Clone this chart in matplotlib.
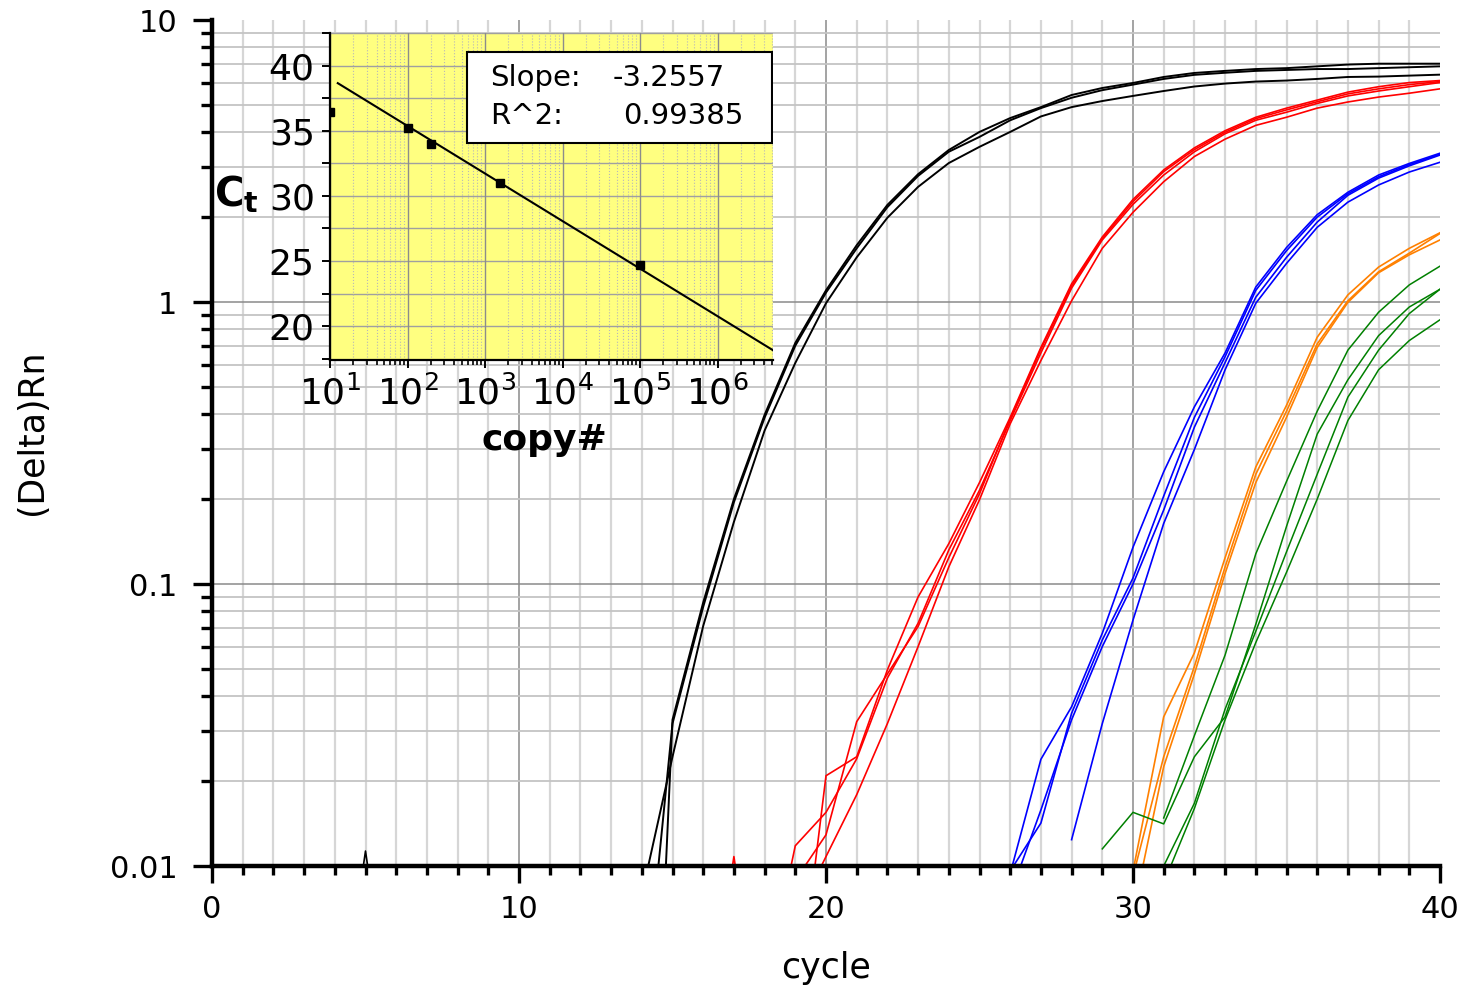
import numpy as np
import matplotlib
matplotlib.use("Agg")
import matplotlib.pyplot as plt
from matplotlib import ticker
from matplotlib.patches import Rectangle

plt.rcParams["font.family"] = ["DejaVu Sans"]
plt.rcParams["mathtext.fontset"] = "dejavusans"

# ---- amplification curves: (first cycle, values from that cycle to cycle 40)
black_start = [14, 14, 14]
black_runs = [
    [0.0079, 0.0244, 0.071, 0.166, 0.35, 0.608, 0.99, 1.44, 1.99, 2.56, 3.11, 3.55, 4.01, 4.55,
     4.91, 5.16, 5.38, 5.6, 5.81, 5.95, 6.05, 6.1, 6.18, 6.28, 6.3, 6.35, 6.4],
    [0.00255, 0.032, 0.083, 0.195, 0.389, 0.70, 1.08, 1.55, 2.17, 2.80, 3.41, 3.85, 4.41, 4.87,
     5.3, 5.64, 5.90, 6.18, 6.39, 6.5, 6.6, 6.65, 6.7, 6.7, 6.75, 6.8, 6.85],
    [0.00013, 0.033, 0.086, 0.2, 0.398, 0.716, 1.10, 1.59, 2.21, 2.84, 3.46, 4.01, 4.49, 4.91,
     5.42, 5.74, 5.98, 6.28, 6.49, 6.6, 6.7, 6.75, 6.85, 6.95, 7.0, 7.0, 7.0],
]
red_start = [18, 19, 19, 19]
red_runs = [
    [0.0036, 0.0118, 0.0155, 0.024, 0.0464, 0.0726, 0.132, 0.215, 0.38, 0.66, 1.12, 1.66, 2.22,
     2.82, 3.41, 3.95, 4.41, 4.71, 5.06, 5.38, 5.6, 5.8, 6.0],
    [0.0027, 0.0209, 0.0244, 0.0496, 0.090, 0.139, 0.229, 0.39, 0.69, 1.16, 1.70, 2.31, 2.94,
     3.52, 4.05, 4.52, 4.87, 5.2, 5.55, 5.8, 6.0, 6.1],
    [0.0089, 0.0129, 0.0325, 0.048, 0.0707, 0.124, 0.209, 0.385, 0.68, 1.14, 1.68, 2.27, 2.9,
     3.47, 4.0, 4.47, 4.8, 5.13, 5.47, 5.7, 5.9, 6.05],
    [0.0065, 0.0108, 0.0179, 0.032, 0.060, 0.115, 0.199, 0.37, 0.62, 1.01, 1.55, 2.08, 2.67,
     3.28, 3.78, 4.23, 4.52, 4.87, 5.12, 5.33, 5.5, 5.7],
]
blue_start = [26, 26, 26, 28]
blue_runs = [
    [0.0094, 0.0239, 0.0367, 0.0669, 0.135, 0.25, 0.425, 0.66, 1.13, 1.56, 2.04, 2.45, 2.82, 3.10, 3.37],
    [0.0096, 0.0142, 0.0348, 0.0633, 0.105, 0.205, 0.39, 0.64, 1.10, 1.52, 2.00, 2.42, 2.78, 3.07, 3.34],
    [0.0079, 0.0158, 0.033, 0.060, 0.100, 0.183, 0.36, 0.61, 1.04, 1.44, 1.92, 2.39, 2.75, 3.04, 3.32],
    [0.0124, 0.032, 0.0745, 0.164, 0.30, 0.575, 0.99, 1.37, 1.84, 2.26, 2.60, 2.89, 3.13],
]
orange_start = [30, 30, 30]
orange_runs = [
    [0.0096, 0.0338, 0.057, 0.124, 0.26, 0.43, 0.75, 1.06, 1.33, 1.55, 1.76],
    [0.0092, 0.0244, 0.051, 0.115, 0.245, 0.41, 0.71, 1.01, 1.28, 1.49, 1.75],
    [0.0068, 0.0225, 0.048, 0.109, 0.229, 0.39, 0.69, 0.997, 1.27, 1.47, 1.66],
]
green_start = [31, 29, 30, 31]
green_runs = [
    [0.0148, 0.029, 0.056, 0.128, 0.231, 0.41, 0.675, 0.92, 1.15, 1.34],
    [0.0115, 0.0155, 0.0141, 0.0244, 0.0338, 0.072, 0.16, 0.34, 0.53, 0.76, 0.96, 1.11],
    [0.006, 0.0100, 0.0167, 0.036, 0.068, 0.13, 0.245, 0.46, 0.675, 0.91, 1.11],
    [0.0087, 0.016, 0.033, 0.062, 0.11, 0.20, 0.38, 0.575, 0.73, 0.865],
]
# baseline noise spikes
spike_black_cyc = [4, 5, 6]
spike_black = [0.002, 0.0113, 0.002]
spike_red_cyc = [16, 17, 18]
spike_red = [0.002, 0.0108, 0.002]

# ---- standard curve (inset)
copies = [10, 100, 200, 1550, 1e5]
ct_values = [36.4, 35.2, 34.0, 31.0, 24.7]
fit_copies = [12.6, 5.2e6]
fit_ct = [38.65, 18.15]
slope_text = "-3.2557"
r2_text = "0.99385"

W, H = 1463, 990
fig = plt.figure(figsize=(W / 100, H / 100), dpi=100)

# main axes
ax = fig.add_axes([212 / W, 1 - 866 / H, (1440 - 212) / W, (866 - 20) / H])
ax.set_yscale("log")
ax.set_xlim(0, 40)
ax.set_ylim(0.01, 10)

for c in range(1, 40):
    if c % 10 == 0:
        ax.axvline(c, color="#8a8a8a", lw=1.1, zorder=0)
    else:
        ax.axvline(c, color="#d6d6d6", lw=1.6, zorder=0)
for dec in [0.01, 0.1, 1]:
    for m in range(2, 10):
        ax.axhline(dec * m, color="#c4c4c4", lw=1.3, zorder=0)
for dec in [0.1, 1]:
    ax.axhline(dec, color="#8a8a8a", lw=1.1, zorder=0)

cycles = np.arange(0, 41)


def expand(start, vals):
    y = np.full(len(cycles), np.nan)
    y[start:start + len(vals)] = vals
    return y


for starts, runs, col, lw in [
    (black_start, black_runs, "black", 1.4),
    (red_start, red_runs, "#ff0000", 1.2),
    (blue_start, blue_runs, "#0000ff", 1.2),
    (orange_start, orange_runs, "#ff8000", 1.2),
    (green_start, green_runs, "#008000", 1.1),
]:
    for s, run in zip(starts, runs):
        ax.plot(cycles, expand(s, run), color=col, lw=lw, zorder=2)

ax.plot(spike_black_cyc, spike_black, color="black", lw=1.2, zorder=2)
ax.plot(spike_red_cyc, spike_red, color="#ff0000", lw=1.2, zorder=2)

for side in ["top", "right"]:
    ax.spines[side].set_visible(False)
for side in ["left", "bottom"]:
    ax.spines[side].set_linewidth(3.2)
    ax.spines[side].set_zorder(3)

ax.set_xticks(range(0, 41, 10))
ax.set_xticks(range(0, 41), minor=True)
ax.yaxis.set_major_locator(ticker.LogLocator(base=10, numticks=10))
ax.yaxis.set_minor_locator(ticker.LogLocator(base=10, subs=np.arange(2, 10), numticks=20))
ax.yaxis.set_major_formatter(ticker.FuncFormatter(lambda v, _: f"{v:g}"))
ax.yaxis.set_minor_formatter(ticker.NullFormatter())
ax.tick_params(axis="x", which="major", direction="out", length=12, width=2.4, pad=9, labelsize=22)
ax.tick_params(axis="x", which="minor", direction="out", length=6.5, width=2.4)
ax.tick_params(axis="y", which="major", direction="out", length=14, width=2.4, pad=11, labelsize=22)
ax.tick_params(axis="y", which="minor", direction="out", length=8, width=2.4)

fig.text(826 / W, 1 - 968 / H, "cycle", ha="center", va="center", fontsize=25)
fig.text(32 / W, 1 - 432 / H, "(Delta)Rn", ha="center", va="center", rotation=90, fontsize=25)

# inset: standard curve
ax_in = fig.add_axes([330 / W, 1 - 360 / H, (773 - 330) / W, (360 - 33) / H])
ax_in.set_facecolor("#ffff80")
ax_in.set_xscale("log")
ax_in.set_xlim(10, 5.2e6)
ax_in.set_ylim(17.4, 42.5)

for v in np.arange(20, 42.6, 2.5):
    ax_in.axhline(v, color="#a0a0a0", lw=1.0, zorder=0)
for e in range(1, 7):
    ax_in.axvline(10.0 ** e, color="#8c8c8c", lw=1.0, zorder=0)
    for m in range(2, 10):
        if m * 10.0 ** e < 5.2e6:
            ax_in.axvline(m * 10.0 ** e, color="#b8b8b8", lw=0.8, ls=":", zorder=0)

ax_in.plot(fit_copies, fit_ct, color="black", lw=1.5, zorder=2)
ax_in.plot(copies, ct_values, ls="none", marker="s", ms=6, color="black", zorder=3)

for side in ["top", "right"]:
    ax_in.spines[side].set_visible(False)
for side in ["left", "bottom"]:
    ax_in.spines[side].set_linewidth(1.6)

ax_in.yaxis.set_major_locator(ticker.MultipleLocator(5))
ax_in.yaxis.set_minor_locator(ticker.MultipleLocator(2.5))
ax_in.xaxis.set_major_locator(ticker.LogLocator(base=10, numticks=10))
ax_in.xaxis.set_minor_locator(ticker.LogLocator(base=10, subs=np.arange(2, 10), numticks=20))
ax_in.xaxis.set_major_formatter(ticker.FuncFormatter(lambda v, _: f"$10^{{{int(round(np.log10(v)))}}}$"))
ax_in.xaxis.set_minor_formatter(ticker.NullFormatter())
ax_in.tick_params(axis="y", which="major", direction="out", length=6, width=1.4, pad=5, labelsize=26)
ax_in.tick_params(axis="y", which="minor", direction="out", length=6, width=1.4)
ax_in.tick_params(axis="x", which="major", direction="out", length=6, width=1.4, pad=5, labelsize=26)
ax_in.tick_params(axis="x", which="minor", direction="out", length=3.5, width=1.2)

ax_in.text(-0.212, 0.505, r"$\mathbf{C}_{\mathbf{t}}$", transform=ax_in.transAxes,
           ha="center", va="center", fontsize=29)
ax_in.text(0.485, -0.245, "copy#", transform=ax_in.transAxes, ha="center", va="center",
           fontsize=26, fontweight="bold")

ax_in.add_patch(Rectangle((0.3093, 0.6636), 0.6884, 0.2783, transform=ax_in.transAxes,
                          facecolor="white", edgecolor="black", lw=1.5, zorder=4))
ax_in.text(0.361, 0.862, "Slope:", transform=ax_in.transAxes, ha="left", va="center", fontsize=21, zorder=5)
ax_in.text(0.639, 0.862, slope_text, transform=ax_in.transAxes, ha="left", va="center", fontsize=21, zorder=5)
ax_in.text(0.361, 0.746, "R^2:", transform=ax_in.transAxes, ha="left", va="center", fontsize=21, zorder=5)
ax_in.text(0.661, 0.746, r2_text, transform=ax_in.transAxes, ha="left", va="center", fontsize=21, zorder=5)

fig.savefig("out.png", dpi=100)
